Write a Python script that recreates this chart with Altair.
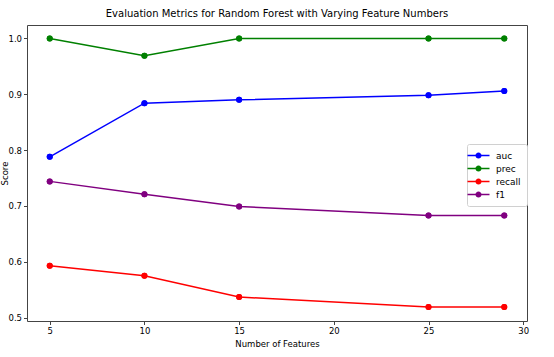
import altair as alt
import pandas as pd

features = [5, 10, 15, 25, 29]
auc = [0.788, 0.884, 0.890, 0.898, 0.906]
prec = [1.0, 0.969, 1.0, 1.0, 1.0]
recall = [0.593, 0.575, 0.537, 0.519, 0.519]
f1 = [0.744, 0.721, 0.699, 0.683, 0.683]

series_names = ["auc", "prec", "recall", "f1"]
series_colors = ["#0000ff", "#008000", "#ff0000", "#800080"]

rows = []
for name, vals in zip(series_names, [auc, prec, recall, f1]):
    for x, v in zip(features, vals):
        rows.append({"features": x, "score": v, "metric": name})
df = pd.DataFrame(rows)

FONT = "DejaVu Sans"
# filled bar + filled circle, so the symbol looks like a line with a marker
legend_symbol = ("M-2,-0.13L2,-0.13L2,0.13L-2,0.13Z"
                 "M-0.55,0A0.55,0.55,0,1,1,0.55,0A0.55,0.55,0,1,1,-0.55,0Z")

color = alt.Color(
    "metric:N",
    scale=alt.Scale(domain=series_names, range=series_colors),
    sort=series_names,
    legend=alt.Legend(
        title=None,
        orient="none",
        legendX=440,
        legendY=119,
        symbolType=legend_symbol,
        symbolSize=121,
        symbolStrokeWidth=0,
        symbolOpacity=1,
        labelFont=FONT,
        labelFontSize=9,
        labelColor="#000",
        labelOffset=12,
        rowPadding=2,
        padding=6,
        strokeColor="#d0d0d0",
        cornerRadius=2,
        fillColor="white",
    ),
)

x = alt.X(
    "features:Q",
    scale=alt.Scale(domain=[3.8, 30.2], nice=False, zero=False),
    axis=alt.Axis(values=[5, 10, 15, 20, 25, 30], title="Number of Features", format="d"),
)
y = alt.Y(
    "score:Q",
    scale=alt.Scale(domain=[0.494, 1.024], nice=False, zero=False),
    axis=alt.Axis(values=[0.5, 0.6, 0.7, 0.8, 0.9, 1.0], format=".1f", title="Score",
                  titleX=-18, titleY=148, titleAngle=270, titleBaseline="bottom"),
)

points = alt.Chart(df).mark_point(filled=True, size=36, opacity=1).encode(x=x, y=y, color=color)
lines = alt.Chart(df).mark_line(strokeWidth=1.5).encode(x=x, y=y, color=color, detail="metric:N")

chart = alt.layer(points, lines, points).properties(
    width=500,
    height=296,
    title=alt.TitleParams(
        "Evaluation Metrics for Random Forest with Varying Feature Numbers",
        font=FONT, fontSize=10, fontWeight="normal", color="#000", offset=6,
    ),
    autosize=alt.AutoSizeParams(type="none"),
    padding={"left": 27, "top": 25, "right": 27, "bottom": 36},
).configure_view(
    stroke="#444", strokeWidth=1,
).configure_axis(
    grid=False,
    domain=False,
    tickColor="#444",
    tickSize=3.5,
    tickWidth=1,
    labelFont=FONT,
    labelFontSize=8.5,
    labelColor="#000",
    labelPadding=2,
    titleFont=FONT,
    titleFontSize=8.5,
    titleFontWeight="normal",
    titleColor="#000",
).configure_axisX(titlePadding=4)

chart.save("out.html", embed_options={"renderer": "svg", "actions": False})
